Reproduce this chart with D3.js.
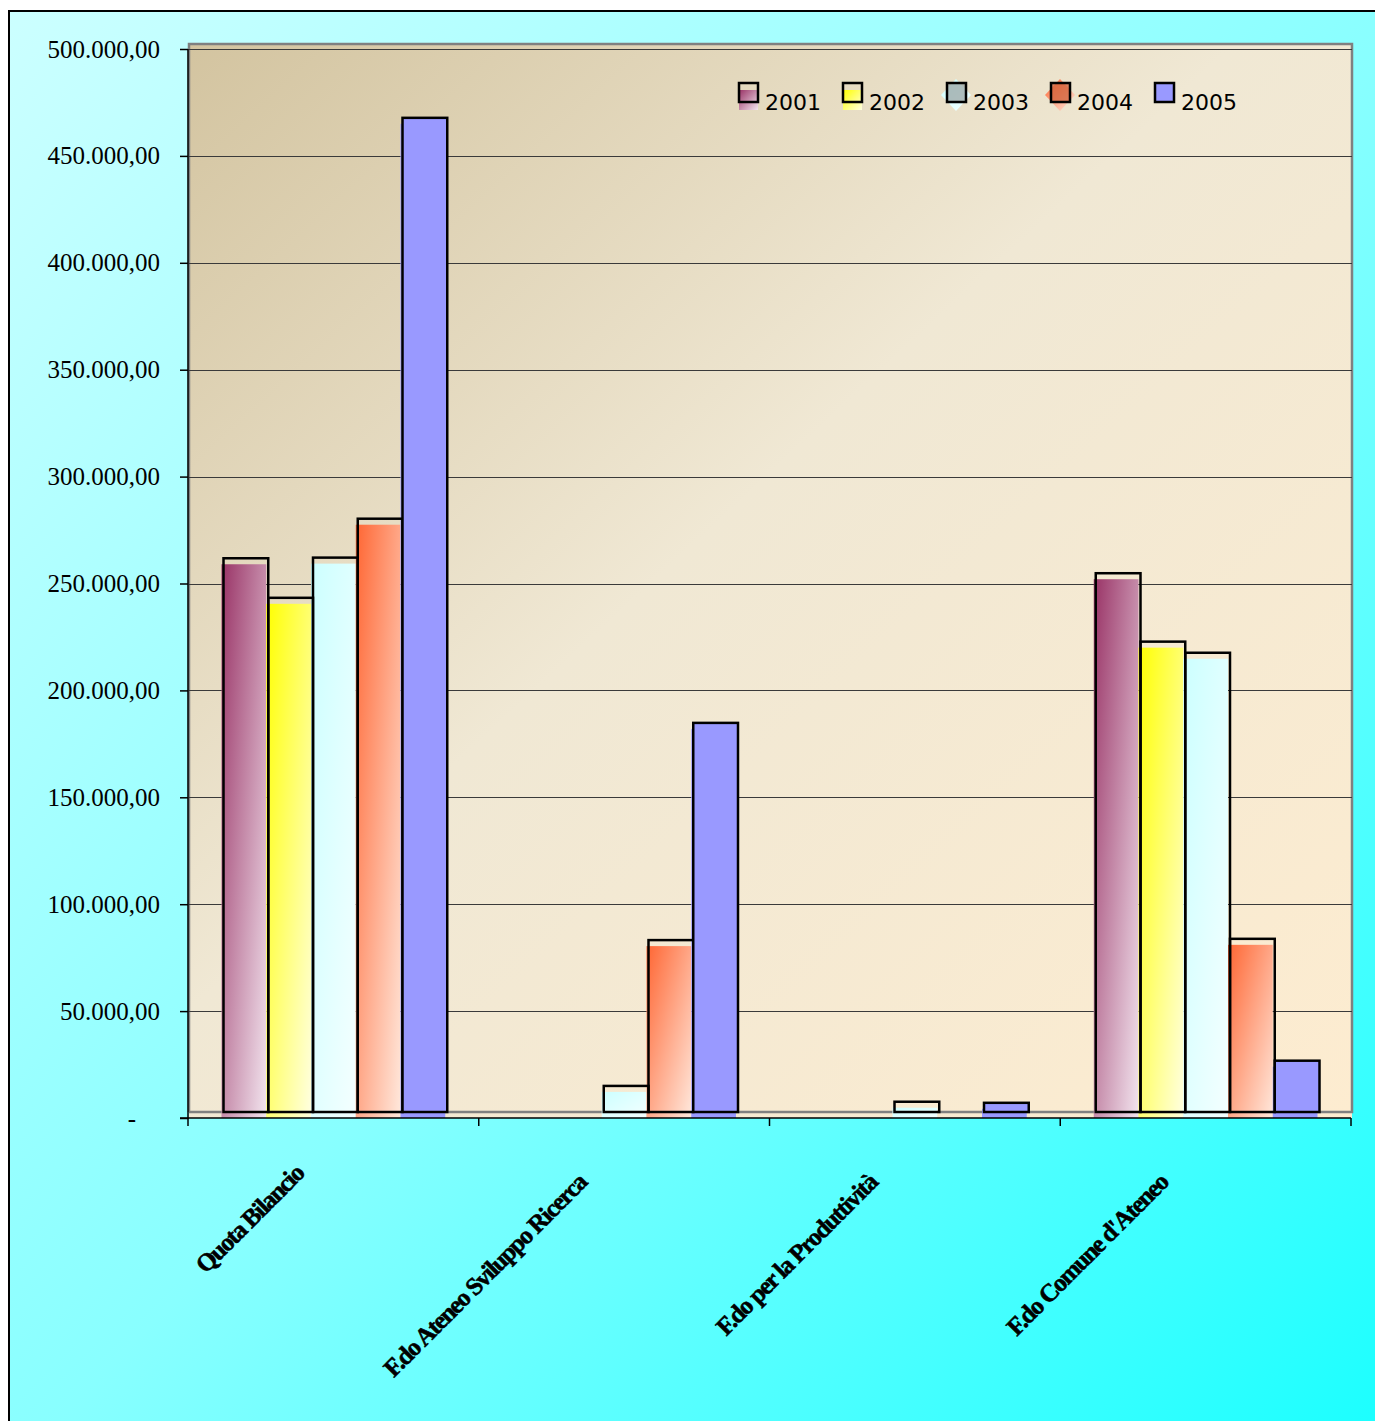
<!DOCTYPE html>
<html>
<head>
<meta charset="utf-8">
<script src="https://cdn.jsdelivr.net/npm/d3@7"></script>
<style>
  html, body { margin: 0; padding: 0; background: #ffffff; overflow: hidden; }
  svg { display: block; }
</style>
</head>
<body>
<script>
// ---- data ----
const categories = ["Quota Bilancio", "F.do Ateneo Sviluppo Ricerca", "F.do per la Produttività", "F.do Comune d'Ateneo"];
const years = ["2001", "2002", "2003", "2004", "2005"];
const values2001 = [259000, 0, 0, 252000];
const values2002 = [240500, 0, 0, 220000];
const values2003 = [259300, 12200, 4800, 214800];
const values2004 = [277500, 80400, 0, 81000];
const values2005 = [465000, 182000, 4300, 24000];
const seriesValues = [values2001, values2002, values2003, values2004, values2005];
const yTicks = [0, 50000, 100000, 150000, 200000, 250000, 300000, 350000, 400000, 450000, 500000];
const yTickLabels = ["-", "50.000,00", "100.000,00", "150.000,00", "200.000,00", "250.000,00", "300.000,00", "350.000,00", "400.000,00", "450.000,00", "500.000,00"];
const seriesColorsFrom = ["#993366", "#ffff00", "#ccffff", "#ff6633", "#9999ff"];
const seriesColorsTo = ["#f2e4ee", "#ffffe0", "#f4ffff", "#ffe8dc", "#9999ff"];

const W = 1375, H = 1421;
const svg = d3.select("body").append("svg").attr("width", W).attr("height", H);
const defs = svg.append("defs");

// backgrounds
const bg = defs.append("linearGradient").attr("id", "bgGrad")
  .attr("x1", 0).attr("y1", 0).attr("x2", 1).attr("y2", 1);
bg.append("stop").attr("offset", 0).attr("stop-color", "#ccffff");
bg.append("stop").attr("offset", 0.5).attr("stop-color", "#88ffff");
bg.append("stop").attr("offset", 1).attr("stop-color", "#14ffff");

const wall = defs.append("linearGradient").attr("id", "wallGrad")
  .attr("x1", 0).attr("y1", 0).attr("x2", 1).attr("y2", 1);
wall.append("stop").attr("offset", 0).attr("stop-color", "#d3c4a0");
wall.append("stop").attr("offset", 0.45).attr("stop-color", "#f0e8d4");
wall.append("stop").attr("offset", 1).attr("stop-color", "#fdecd0");

years.forEach((yr, i) => {
  const g = defs.append("linearGradient").attr("id", "sg" + i)
    .attr("x1", 0).attr("y1", 0).attr("x2", 1).attr("y2", 1);
  g.append("stop").attr("offset", 0).attr("stop-color", seriesColorsFrom[i]);
  g.append("stop").attr("offset", 1).attr("stop-color", seriesColorsTo[i]);
});

svg.append("rect").attr("x", 9).attr("y", 11).attr("width", 1420).attr("height", 1460)
  .attr("fill", "url(#bgGrad)").attr("stroke", "#000").attr("stroke-width", 2);

// scales
const plotLeft = 188, plotRight = 1351, plotTop = 49, plotBottom = 1118;
const depthX = 2, depthY = 6;
const y = d3.scaleLinear().domain([0, 500000]).range([plotBottom, plotTop]);
const x0 = d3.scaleBand().domain(categories).range([plotLeft, plotRight]).padding(0);
const groupPad = 33.5;
const x1 = d3.scaleBand().domain(years).range([groupPad, x0.bandwidth() - groupPad]).padding(0);

// wall
svg.append("rect").attr("x", plotLeft + 1).attr("y", plotTop - 5)
  .attr("width", plotRight - plotLeft).attr("height", plotBottom - plotTop + 5)
  .attr("fill", "url(#wallGrad)");
svg.append("path")
  .attr("d", `M${plotLeft + 1},${plotBottom - depthY} V${plotTop - 5} H${plotRight + 1} V${plotBottom - depthY} H${plotLeft + 1}`)
  .attr("fill", "none").attr("stroke", "#808080").attr("stroke-width", 2.5);

// gridlines
svg.append("g").selectAll("line").data(yTicks.slice(1)).join("line")
  .attr("x1", plotLeft + 1).attr("x2", plotRight + 1)
  .attr("y1", d => Math.round(y(d)) + 0.5).attr("y2", d => Math.round(y(d)) + 0.5)
  .attr("stroke", "#3a3a3a").attr("stroke-width", 1.2);

// bars
const groups = svg.append("g").selectAll("g").data(categories).join("g")
  .attr("transform", d => `translate(${x0(d)},0)`);

groups.each(function(cat, ci) {
  const g = d3.select(this);
  years.forEach((yr, si) => {
    const v = seriesValues[si][ci];
    if (!v) return;
    const bx = x1(yr), bw = x1.bandwidth();
    g.append("rect")
      .attr("x", bx).attr("y", y(v)).attr("width", bw).attr("height", y(0) - y(v))
      .attr("fill", `url(#sg${si})`);
  });
  years.forEach((yr, si) => {
    const v = seriesValues[si][ci];
    if (!v) return;
    const bx = x1(yr), bw = x1.bandwidth();
    g.append("rect")
      .attr("x", bx + depthX).attr("y", y(v) - depthY).attr("width", bw).attr("height", y(0) - y(v))
      .attr("fill", si === 4 ? seriesColorsFrom[4] : "none")
      .attr("stroke", "#000").attr("stroke-width", 2.5);
  });
});

// y axis
const yAxis = d3.axisLeft(y).tickValues(yTicks).tickSize(8).tickPadding(20)
  .tickFormat((d, i) => yTickLabels[i]);
const yg = svg.append("g").attr("transform", `translate(${plotLeft},0)`).call(yAxis);
yg.select(".domain").attr("stroke", "#000").attr("stroke-width", 1.5).attr("d", `M-8,${plotBottom}H0V${plotTop}`);
yg.selectAll(".tick line").attr("stroke", "#000").attr("stroke-width", 1.5);
yg.selectAll(".tick text")
  .attr("font-family", "'Liberation Serif', 'Times New Roman', serif")
  .attr("font-size", 25).attr("fill", "#000")
  .attr("dx", (d) => d === 0 ? -24 : 0);

// x axis
svg.append("line").attr("x1", plotLeft).attr("x2", plotRight)
  .attr("y1", plotBottom).attr("y2", plotBottom).attr("stroke", "#000").attr("stroke-width", 1.5);
const xTickPos = categories.map(c => x0(c)).concat([x0.range()[1]]);
svg.append("g").selectAll("line").data(xTickPos).join("line")
  .attr("x1", d => d).attr("x2", d => d).attr("y1", plotBottom).attr("y2", plotBottom + 8)
  .attr("stroke", "#000").attr("stroke-width", 1.5);

svg.append("g").selectAll("text").data(categories).join("text")
  .attr("transform", (d, i) => `translate(${x0(d) + x0.bandwidth() / 2 - (i === 0 ? 28 : 36)},${plotBottom + (i === 0 ? 57 : 66)}) rotate(-45)`)
  .attr("text-anchor", "end")
  .attr("font-family", "'Liberation Serif', 'Times New Roman', serif")
  .attr("font-weight", "bold").attr("font-size", 25).attr("letter-spacing", -1.4)
  .attr("fill", "#000").attr("stroke", "#000").attr("stroke-width", 0.6)
  .text(d => d);

// legend
const legend = svg.append("g");
const legX = 739, legStep = 104, legY = 83;
years.forEach((yr, i) => {
  const lx = legX + i * legStep;
  const item = legend.append("g").attr("transform", `translate(${lx},${legY})`);
  if (i === 2 || i === 3) {
    item.append("path").attr("d", "M9,-4 L24,12 L9,28 L-6,12 Z")
      .attr("fill", `url(#sg${i})`);
    item.append("rect").attr("x", 0).attr("y", 0).attr("width", 19).attr("height", 19)
      .attr("fill", i === 2 ? "#9aa6a6" : "#d0603a").attr("fill-opacity", 0.75)
      .attr("stroke", "#000").attr("stroke-width", 2.5);
  } else if (i === 4) {
    item.append("rect").attr("x", 0).attr("y", 0).attr("width", 19).attr("height", 19)
      .attr("fill", seriesColorsFrom[4]).attr("stroke", "#000").attr("stroke-width", 2.5);
  } else {
    item.append("rect").attr("x", 0).attr("y", 7).attr("width", 19).attr("height", 20)
      .attr("fill", `url(#sg${i})`);
    item.append("rect").attr("x", 0).attr("y", 0).attr("width", 19).attr("height", 19)
      .attr("fill", "none").attr("stroke", "#000").attr("stroke-width", 2.5);
  }
  item.append("text").attr("x", 26).attr("y", 27)
    .attr("font-family", "'DejaVu Sans', Verdana, sans-serif")
    .attr("font-size", 22).attr("fill", "#000").text(yr);
});
</script>
</body>
</html>
